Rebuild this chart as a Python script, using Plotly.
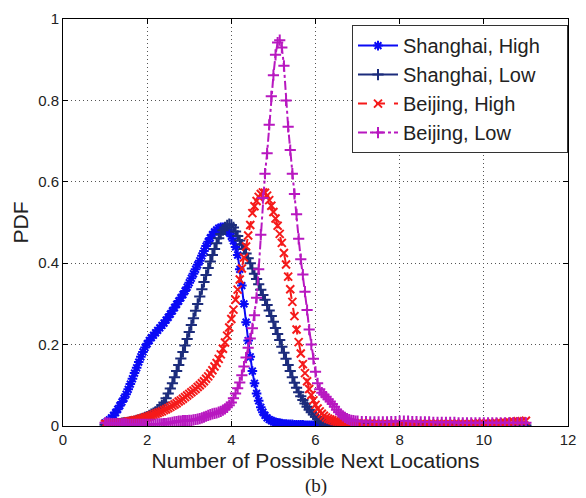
import plotly.graph_objects as go

# Sampling positions: fine grid over the main body, coarser over the long tail
X_FINE = [round(1.0 + 0.05 * i, 2) for i in range(121)]   # 1.00 .. 7.00
X_TAIL = [round(7.1 + 0.1 * i, 1) for i in range(40)]     # 7.1 .. 11.0

SERIES_NAMES = ["Shanghai, High", "Shanghai, Low", "Beijing, High", "Beijing, Low"]

SH_HIGH_FINE = [
    0.008, 0.011, 0.015, 0.020, 0.026, 0.033, 0.041, 0.050, 0.059, 0.068,
    0.078, 0.090, 0.103, 0.116, 0.130, 0.143, 0.157, 0.170, 0.182, 0.193,
    0.202, 0.210, 0.217, 0.223, 0.229, 0.235, 0.241, 0.247, 0.253, 0.260,
    0.267, 0.275, 0.283, 0.291, 0.299, 0.307, 0.315, 0.323, 0.332, 0.341,
    0.352, 0.363, 0.374, 0.385, 0.396, 0.406, 0.418, 0.430, 0.442, 0.453,
    0.462, 0.470, 0.477, 0.482, 0.486, 0.488, 0.488, 0.486, 0.482, 0.475,
    0.466, 0.455, 0.440, 0.420, 0.385, 0.345, 0.300, 0.255, 0.210, 0.170,
    0.135, 0.105, 0.080, 0.062, 0.046, 0.034, 0.026, 0.020, 0.016, 0.013,
    0.011, 0.009, 0.008, 0.007, 0.006, 0.005, 0.005, 0.004, 0.004, 0.004,
    0.003, 0.003, 0.003, 0.003, 0.003, 0.002, 0.002, 0.002, 0.002, 0.002,
    0.002, 0.002, 0.002, 0.002, 0.002, 0.002, 0.001, 0.001, 0.001, 0.001,
    0.001, 0.001, 0.001, 0.001, 0.001, 0.001, 0.001, 0.001, 0.001, 0.001,
    0.001,
]
SH_HIGH_TAIL = [
    0.001, 0.001, 0.001, 0.001, 0.001, 0.001, 0.001, 0.001, 0.001, 0.001,
    0.001, 0.001, 0.001, 0.001, 0.001, 0.001, 0.001, 0.001, 0.001, 0.001,
    0.001, 0.001, 0.001, 0.001, 0.001, 0.001, 0.001, 0.001, 0.001, 0.001,
    0.001, 0.001, 0.001, 0.001, 0.001, 0.001, 0.001, 0.001, 0.001, 0.001,
]

SH_LOW_FINE = [
    0.003, 0.003, 0.004, 0.004, 0.005, 0.005, 0.006, 0.006, 0.007, 0.008,
    0.008, 0.009, 0.010, 0.011, 0.012, 0.014, 0.015, 0.017, 0.019, 0.021,
    0.023, 0.026, 0.029, 0.032, 0.035, 0.040, 0.045, 0.051, 0.058, 0.068,
    0.080, 0.092, 0.105, 0.120, 0.135, 0.150, 0.166, 0.182, 0.198, 0.214,
    0.231, 0.248, 0.265, 0.283, 0.300, 0.318, 0.336, 0.354, 0.371, 0.388,
    0.404, 0.420, 0.435, 0.449, 0.461, 0.472, 0.481, 0.488, 0.493, 0.496,
    0.494, 0.488, 0.478, 0.467, 0.456, 0.446, 0.435, 0.424, 0.412, 0.400,
    0.387, 0.374, 0.361, 0.348, 0.335, 0.322, 0.310, 0.297, 0.284, 0.270,
    0.256, 0.241, 0.226, 0.211, 0.195, 0.180, 0.165, 0.150, 0.135, 0.120,
    0.106, 0.094, 0.083, 0.073, 0.064, 0.055, 0.047, 0.040, 0.034, 0.028,
    0.023, 0.018, 0.014, 0.011, 0.009, 0.007, 0.006, 0.005, 0.004, 0.004,
    0.003, 0.003, 0.003, 0.003, 0.002, 0.002, 0.002, 0.002, 0.002, 0.002,
    0.002,
]
SH_LOW_TAIL = [
    0.002, 0.002, 0.002, 0.001, 0.001, 0.001, 0.001, 0.001, 0.001, 0.001,
    0.001, 0.001, 0.001, 0.001, 0.001, 0.001, 0.001, 0.001, 0.001, 0.001,
    0.001, 0.001, 0.001, 0.001, 0.001, 0.001, 0.001, 0.001, 0.001, 0.001,
    0.001, 0.001, 0.001, 0.001, 0.001, 0.001, 0.001, 0.001, 0.001, 0.001,
]

BJ_HIGH_FINE = [
    0.005, 0.005, 0.006, 0.006, 0.007, 0.007, 0.008, 0.008, 0.009, 0.009,
    0.010, 0.011, 0.012, 0.013, 0.014, 0.015, 0.016, 0.018, 0.019, 0.021,
    0.022, 0.024, 0.026, 0.028, 0.030, 0.032, 0.034, 0.036, 0.039, 0.041,
    0.044, 0.047, 0.050, 0.053, 0.056, 0.060, 0.063, 0.067, 0.071, 0.075,
    0.079, 0.083, 0.087, 0.091, 0.096, 0.100, 0.105, 0.110, 0.116, 0.122,
    0.129, 0.137, 0.146, 0.155, 0.165, 0.176, 0.190, 0.205, 0.222, 0.242,
    0.263, 0.286, 0.310, 0.335, 0.360, 0.387, 0.414, 0.441, 0.468, 0.494,
    0.523, 0.540, 0.553, 0.563, 0.570, 0.574, 0.573, 0.566, 0.555, 0.541,
    0.526, 0.510, 0.492, 0.472, 0.450, 0.425, 0.397, 0.367, 0.336, 0.305,
    0.270, 0.237, 0.206, 0.178, 0.152, 0.130, 0.110, 0.091, 0.076, 0.063,
    0.052, 0.043, 0.036, 0.030, 0.025, 0.021, 0.018, 0.016, 0.014, 0.012,
    0.011, 0.010, 0.009, 0.008, 0.008, 0.007, 0.007, 0.007, 0.006, 0.006,
    0.006,
]
BJ_HIGH_TAIL = [
    0.006, 0.006, 0.006, 0.005, 0.005, 0.005, 0.005, 0.005, 0.005, 0.005,
    0.005, 0.005, 0.005, 0.005, 0.005, 0.005, 0.005, 0.005, 0.005, 0.005,
    0.005, 0.005, 0.005, 0.005, 0.005, 0.005, 0.005, 0.006, 0.006, 0.006,
    0.006, 0.007, 0.007, 0.008, 0.009, 0.010, 0.011, 0.012, 0.012, 0.013,
]

BJ_LOW_FINE = [
    0.008, 0.007, 0.007, 0.006, 0.006, 0.006, 0.005, 0.005, 0.005, 0.005,
    0.005, 0.004, 0.004, 0.004, 0.004, 0.004, 0.004, 0.004, 0.004, 0.004,
    0.004, 0.004, 0.004, 0.004, 0.004, 0.005, 0.005, 0.005, 0.006, 0.006,
    0.007, 0.008, 0.009, 0.010, 0.011, 0.012, 0.012, 0.013, 0.013, 0.013,
    0.014, 0.014, 0.015, 0.016, 0.017, 0.018, 0.020, 0.022, 0.024, 0.026,
    0.028, 0.030, 0.031, 0.032, 0.034, 0.036, 0.039, 0.042, 0.046, 0.051,
    0.058, 0.068, 0.080, 0.093, 0.107, 0.125, 0.146, 0.168, 0.192, 0.215,
    0.240, 0.272, 0.315, 0.385, 0.470, 0.560, 0.620, 0.670, 0.740, 0.810,
    0.862, 0.912, 0.942, 0.948, 0.930, 0.885, 0.800, 0.735, 0.678, 0.620,
    0.570, 0.520, 0.460, 0.410, 0.372, 0.330, 0.285, 0.237, 0.200, 0.165,
    0.133, 0.105, 0.090, 0.082, 0.077, 0.072, 0.066, 0.060, 0.054, 0.047,
    0.040, 0.034, 0.029, 0.025, 0.021, 0.018, 0.016, 0.014, 0.013, 0.012,
    0.012,
]
BJ_LOW_TAIL = [
    0.011, 0.011, 0.010, 0.010, 0.010, 0.010, 0.010, 0.011, 0.011, 0.012,
    0.012, 0.012, 0.011, 0.011, 0.010, 0.010, 0.010, 0.009, 0.009, 0.009,
    0.009, 0.009, 0.009, 0.008, 0.008, 0.008, 0.008, 0.008, 0.008, 0.008,
    0.008, 0.008, 0.008, 0.008, 0.008, 0.008, 0.008, 0.008, 0.008, 0.008,
]

X_TICKS = [0, 2, 4, 6, 8, 10, 12]
Y_TICKS = [0, 0.2, 0.4, 0.6, 0.8, 1]
Y_TICK_TEXT = ["0", "0.2", "0.4", "0.6", "0.8", "1"]

STYLES = [
    dict(color="#0a0af5", dash="solid", symbol="asterisk"),
    dict(color="#1c2c7c", dash="solid", symbol="cross-thin"),
    dict(color="#f51a1a", dash="dash", symbol="x-thin"),
    dict(color="#b818c0", dash="dashdot", symbol="cross-thin"),
]

series = [
    (SH_HIGH_FINE, SH_HIGH_TAIL),
    (SH_LOW_FINE, SH_LOW_TAIL),
    (BJ_HIGH_FINE, BJ_HIGH_TAIL),
    (BJ_LOW_FINE, BJ_LOW_TAIL),
]

# right-hand padding inside the legend box
PAD = "\u00a0" * 4

x_all = X_FINE + X_TAIL
fig = go.Figure()
for name, (fine, tail), st in zip(SERIES_NAMES, series, STYLES):
    assert len(fine) == len(X_FINE) and len(tail) == len(X_TAIL)
    fig.add_trace(go.Scatter(
        x=x_all, y=fine + tail, name=name + PAD, mode="lines+markers",
        line=dict(color=st["color"], width=2, dash=st["dash"]),
        marker=dict(symbol=st["symbol"], size=8, color=st["color"],
                    line=dict(color=st["color"], width=2)),
    ))

axis_common = dict(
    showline=True, linecolor="black", linewidth=1, mirror="ticks",
    ticks="inside", ticklen=5, tickcolor="black",
    showgrid=True, gridcolor="#555555", gridwidth=1, griddash="1px,3px",
    zeroline=False, tickfont=dict(size=15, color="#222"),
)

fig.update_xaxes(range=[0, 12], tickvals=X_TICKS, **axis_common,
                 title=dict(text="Number of Possible Next Locations",
                            font=dict(size=21, color="#222"), standoff=6))
fig.update_yaxes(range=[0, 1], tickvals=Y_TICKS, ticktext=Y_TICK_TEXT, **axis_common,
                 title=dict(text="PDF", font=dict(size=21, color="#222"), standoff=3))

fig.add_annotation(text="(b)", x=0.5, y=-0.147, xref="paper", yref="paper",
                   xanchor="center", yanchor="middle", showarrow=False,
                   font=dict(family="Liberation Serif", size=19, color="#222"))

fig.update_layout(
    width=586, height=498,
    margin=dict(l=63, r=10, t=17, b=72),
    paper_bgcolor="white", plot_bgcolor="white",
    font=dict(family="Liberation Sans, Arial, sans-serif", color="#222"),
    legend=dict(x=1.0, y=0.985, xanchor="right", yanchor="top",
                bgcolor="white", bordercolor="#333", borderwidth=1,
                font=dict(size=20, color="#222"), tracegroupgap=0,
                itemwidth=40),
)

fig.write_html("out.html")
